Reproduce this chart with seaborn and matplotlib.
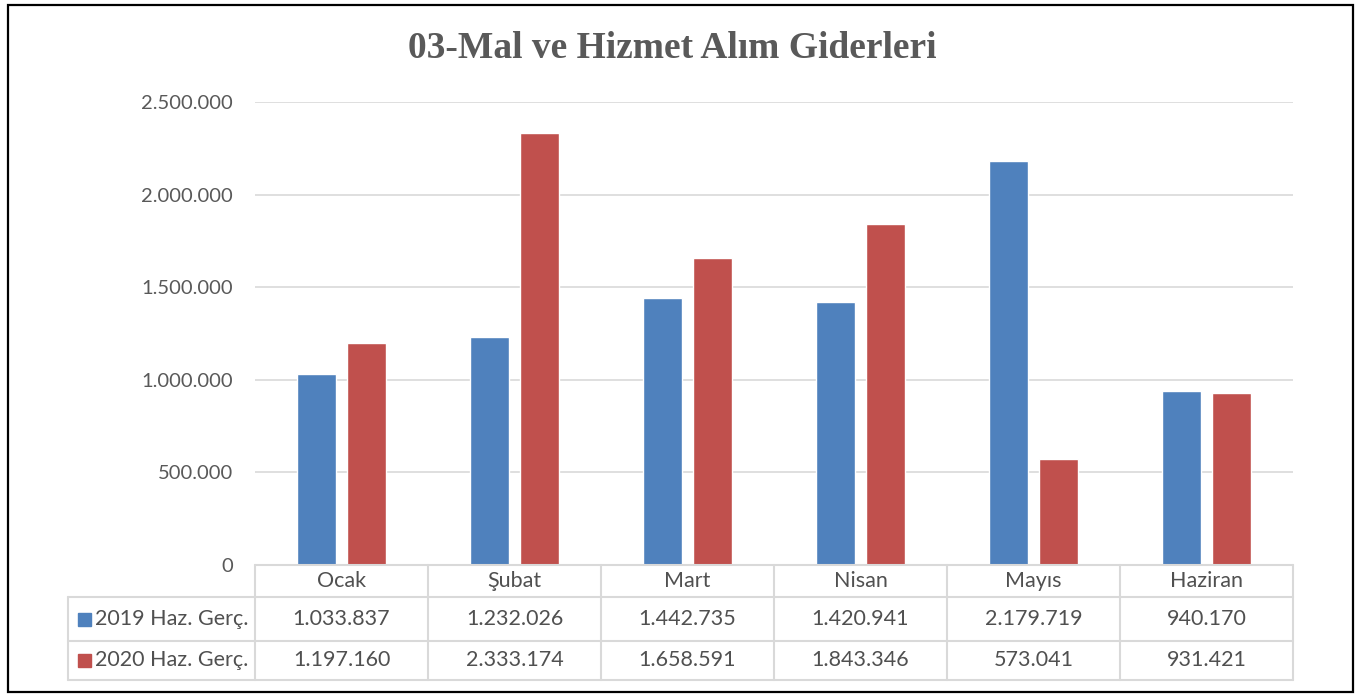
import matplotlib
matplotlib.use("Agg")
import matplotlib.pyplot as plt
import matplotlib.transforms as mtransforms
from matplotlib.patches import Rectangle
from matplotlib.ticker import FuncFormatter
import pandas as pd
import seaborn as sns

# --------------------------------------------------------------------------- #
# Data
# --------------------------------------------------------------------------- #
months = ["Ocak", "Şubat", "Mart", "Nisan", "Mayıs", "Haziran"]
series_names = ["2019 Haz. Gerç.", "2020 Haz. Gerç."]
values_2019 = [1033837, 1232026, 1442735, 1420941, 2179719, 940170]
values_2020 = [1197160, 2333174, 1658591, 1843346, 573041, 931421]
colors = ["#4F81BD", "#C0504D"]
title = "03-Mal ve Hizmet Alım Giderleri"

df = pd.DataFrame({
    "Ay": months * 2,
    "Seri": [series_names[0]] * len(months) + [series_names[1]] * len(months),
    "Tutar": values_2019 + values_2020,
})


def tr_fmt(v, _pos=None):
    return f"{v:,.0f}".replace(",", ".")


sns.set_style("white")
plt.rcParams["font.family"] = ["Lato", "DejaVu Sans"]

W, H = 1361, 697
fig = plt.figure(figsize=(W / 100, H / 100), dpi=100)
ax = fig.add_axes([255 / W, 1 - 565 / H, (1293 - 255) / W, (565 - 102) / H])

sns.barplot(
    data=df, x="Ay", y="Tutar", hue="Seri", order=months, hue_order=series_names,
    palette=colors, width=0.58, gap=0.22, saturation=1, ax=ax, legend=False,
)

ax.set_xlim(-0.5, len(months) - 0.5)
ax.set_ylim(0, 2500000)
ax.set_yticks(range(0, 2500001, 500000))
ax.yaxis.set_major_formatter(FuncFormatter(tr_fmt))
ax.tick_params(axis="y", length=0, pad=16, labelsize=14.5, labelcolor="#595959")
ax.set_xticks([])
ax.set_xlabel("")
ax.set_ylabel("")
ax.grid(axis="y", color="#D9D9D9", linewidth=1.2)
ax.set_axisbelow(True)
for s in ax.spines.values():
    s.set_visible(False)

# --------------------------------------------------------------------------- #
# Data table under the chart
# --------------------------------------------------------------------------- #
px_h = 565 - 102  # axes height in pixels
trans = mtransforms.blended_transform_factory(ax.transData, ax.transAxes)
line_kw = dict(color="#D9D9D9", linewidth=1.5, clip_on=False, transform=trans)

y_hdr = -32 / px_h
y_r1 = -76 / px_h
y_r2 = -115 / px_h
x_left = -0.5 - (255 - 68) / 173
x_right = len(months) - 0.5

# horizontal lines
ax.plot([-0.5, x_right], [0, 0], **line_kw)
ax.plot([x_left, x_right], [y_hdr, y_hdr], **line_kw)
ax.plot([x_left, x_right], [y_r1, y_r1], **line_kw)
ax.plot([x_left, x_right], [y_r2, y_r2], **line_kw)
# vertical lines
for i in range(len(months) + 1):
    ax.plot([i - 0.5, i - 0.5], [0, y_r2], **line_kw)
ax.plot([x_left, x_left], [y_hdr, y_r2], **line_kw)

text_kw = dict(transform=trans, fontsize=15.5, color="#505050", clip_on=False)
for i, m in enumerate(months):
    ax.text(i, y_hdr / 2, m, ha="center", va="center", **text_kw)
    ax.text(i, (y_hdr + y_r1) / 2, tr_fmt(values_2019[i]), ha="center", va="center", **text_kw)
    ax.text(i, (y_r1 + y_r2) / 2, tr_fmt(values_2020[i]), ha="center", va="center", **text_kw)

for name, col, (ya, yb) in zip(series_names, colors, [(y_hdr, y_r1), (y_r1, y_r2)]):
    yc = (ya + yb) / 2
    sq = 13 / px_h
    ax.add_patch(Rectangle((x_left + 10 / 173, yc - sq / 2), 13 / 173, sq,
                           transform=trans, color=col, clip_on=False))
    ax.text(x_left + 27 / 173, yc, name, ha="left", va="center", **text_kw)

# title and outer frame
fig.text(672 / W, 1 - 48 / H, title, ha="center", va="center",
         fontsize=27, fontweight="bold", color="#595959",
         family=["Liberation Serif", "DejaVu Serif"])
fig.add_artist(Rectangle((8 / W, 1 - 692 / H), 1345 / W, 687 / H, transform=fig.transFigure,
                         fill=False, edgecolor="black", linewidth=1.6))

fig.savefig("out.png", dpi=100)
